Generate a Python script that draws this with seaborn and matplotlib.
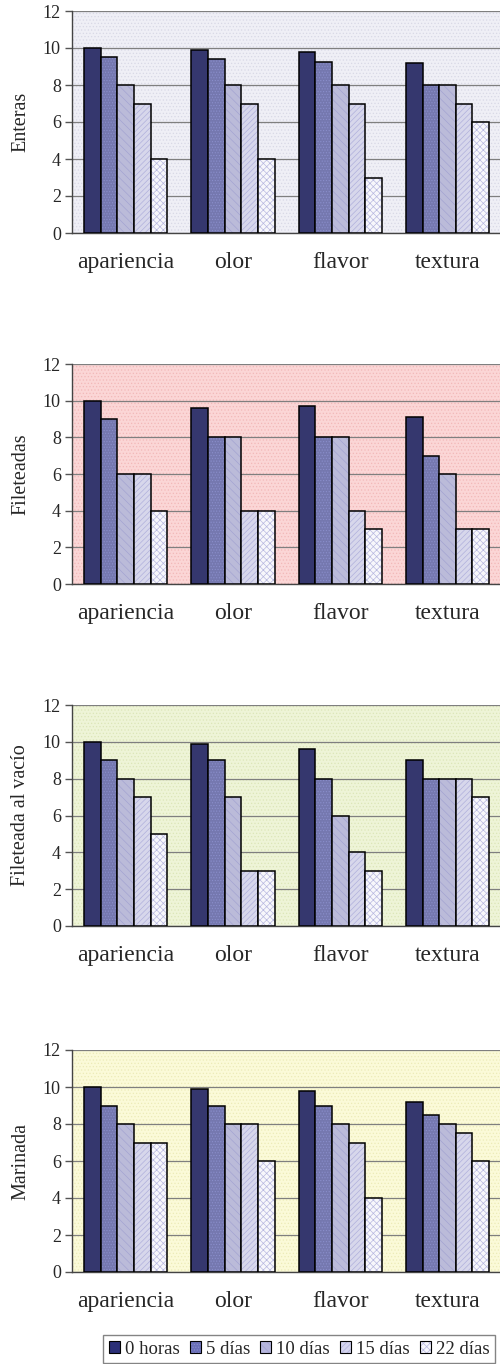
import pandas as pd
import matplotlib
matplotlib.use('Agg')
import matplotlib.pyplot as plt
import matplotlib.patches as mpatches
from matplotlib.colors import to_rgba
import seaborn as sns

# Data
atributos = ['apariencia', 'olor', 'flavor', 'textura']
tiempos = ['0 horas', '5 días', '10 días', '15 días', '22 días']

enteras = [[10, 9.5, 8, 7, 4],
           [9.9, 9.4, 8, 7, 4],
           [9.8, 9.25, 8, 7, 3],
           [9.2, 8, 8, 7, 6]]
fileteadas = [[10, 9, 6, 6, 4],
              [9.6, 8, 8, 4, 4],
              [9.7, 8, 8, 4, 3],
              [9.1, 7, 6, 3, 3]]
vacio = [[10, 9, 8, 7, 5],
         [9.9, 9, 7, 3, 3],
         [9.6, 8, 6, 4, 3],
         [9, 8, 8, 8, 7]]
marinada = [[10, 9, 8, 7, 7],
            [9.9, 9, 8, 8, 6],
            [9.8, 9, 8, 7, 4],
            [9.2, 8.5, 8, 7.5, 6]]

paneles = ['Enteras', 'Fileteadas', 'Fileteada al vacío', 'Marinada']
valores = [enteras, fileteadas, vacio, marinada]
fondos = ['#efeff6', '#fbd6d6', '#eef4d7', '#fbfad8']
fondo_hatch = ['#d8d8e6', '#f2b8b8', '#dce6b8', '#ecebb8']

colores = ['#2b2f77', '#6b70b9', '#b6b6de', '#d4d4ee', '#f6f6fc']
hatches = [None, '......', '\\\\\\\\', '//////', 'xxxxx']
hatch_col = [None, '#8a8ecb', '#a4a4d2', '#b0b0dc', '#b8b8e0']

sns.set_style('white')
plt.rcParams['font.family'] = ['Liberation Serif', 'DejaVu Serif']
plt.rcParams['hatch.linewidth'] = 0.5

fig = plt.figure(figsize=(5, 13.64), dpi=100)

# axes boxes in pixels: (top, bottom)
cajas = [(11, 233), (364, 584), (705, 926), (1050, 1272)]
H = 1364.0
left = 72 / 500.0
width = 4 * 107.3 / 500.0


def set_hatch_color(patch, c):
    if hasattr(patch, 'set_hatchcolor'):
        patch.set_hatchcolor(c)
    else:
        patch._hatch_color = to_rgba(c)


for nombre, vals, bg, bgh, (top, bot) in zip(paneles, valores, fondos, fondo_hatch, cajas):
    ax = fig.add_axes([left, 1 - bot / H, width, (bot - top) / H])
    rows = []
    for i, a in enumerate(atributos):
        for j, t in enumerate(tiempos):
            rows.append({'atributo': a, 'tiempo': t, 'valor': vals[i][j]})
    df = pd.DataFrame(rows)

    sns.barplot(data=df, x='atributo', y='valor', hue='tiempo',
                hue_order=tiempos, palette=colores, width=0.775, gap=0,
                edgecolor='black', linewidth=1.1, legend=False, ax=ax, zorder=3)

    for k, cont in enumerate(ax.containers):
        for bar in cont:
            if hatches[k]:
                bar.set_hatch(hatches[k])
                set_hatch_color(bar, hatch_col[k])

    ax.set_facecolor(bg)
    ax.patch.set_hatch('.....')
    ax.patch.set_edgecolor(bgh)
    ax.patch.set_linewidth(0)

    ax.set_xlim(-0.5, 3.5)
    ax.set_ylim(0, 12)
    ax.set_yticks(range(0, 13, 2))
    ax.yaxis.grid(True, color='#7f7f7f', linewidth=0.9, zorder=1)
    ax.set_axisbelow(True)

    ax.set_xticks(range(4))
    ax.set_xticklabels(atributos, fontsize=17)
    ax.set_xticks([-0.5, 0.5, 1.5, 2.5, 3.5], minor=True)
    ax.tick_params(axis='x', which='major', length=0, pad=14)
    ax.tick_params(axis='x', which='minor', length=6, width=1, color='#555555', direction='out')
    ax.tick_params(axis='y', length=5, width=1, color='#555555', direction='out',
                   labelsize=13, pad=3, left=True)

    ax.set_xlabel('')
    ax.set_ylabel(nombre, fontsize=14.5, labelpad=9)
    for s in ['left', 'bottom']:
        ax.spines[s].set_color('#444444')
        ax.spines[s].set_linewidth(1)
    ax.spines['top'].set_visible(False)
    ax.spines['right'].set_visible(False)

# legend at the bottom
handles = []
for c, h, hc in zip(colores, hatches, hatch_col):
    p = mpatches.Patch(facecolor=c, edgecolor='black', linewidth=0.8, hatch=h)
    if h:
        set_hatch_color(p, hc)
    handles.append(p)
fig.legend(handles, tiempos, loc='center', bbox_to_anchor=(0.598, 1 - 1349 / H),
           ncol=5, fontsize=13.5, frameon=True, fancybox=False, edgecolor='#666666',
           handlelength=0.6, handleheight=0.6, handletextpad=0.25, columnspacing=0.55,
           borderpad=0.3, borderaxespad=0)

fig.savefig('out.png', dpi=100)
